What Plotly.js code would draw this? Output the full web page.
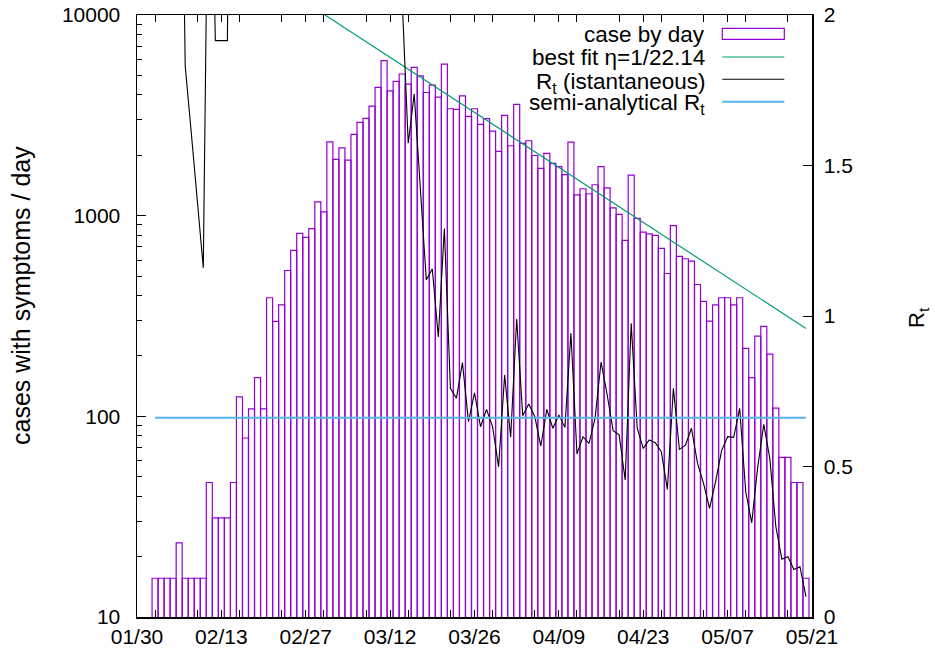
<!DOCTYPE html>
<html><head><meta charset="utf-8">
<script src="https://cdn.plot.ly/plotly-3.0.1.min.js"></script>
<style>html,body{margin:0;padding:0;background:#fff}#chart{width:935px;height:654px}</style>
</head><body><div id="chart"></div>
<script>
// ---- data ----
const caseStart = '2020-02-02';
const casesByDay = [
  15.6, 15.6, 15.6, 15.6, 23.4, 15.6, 15.6, 15.6, 15.6, 46.8,
  31.2, 31.2, 31.2, 46.8, 125, 78, 109, 156, 109, 390,
  297, 359, 533, 671, 817, 779, 861, 1172, 1045, 2333,
  1909, 2178, 1893, 2542, 2917, 3054, 3516, 4354, 5918, 4189,
  4665, 5082, 4528, 5483, 4977, 4110, 4475, 3897, 5690, 3410,
  3387, 3955, 3124, 3410, 2849, 3042, 2641, 2091, 3162, 2230,
  3590, 2291, 2362, 1995, 1720, 2042, 1823, 1754, 1600, 2327,
  1268, 1362, 1286, 1426, 1754, 1377, 1094, 1014, 753, 1592,
  970, 828, 812, 797, 687, 515, 891, 627, 610, 594,
  454, 374, 298, 359, 390, 390, 359, 390, 218, 156,
  251, 281, 204, 110, 62.4, 62.4, 46.8, 46.8, 15.6
];
const rtStart = '2020-02-04';
const rtValues = [
  4.2, 3.9, 3.3, 1.83, 1.61, 1.38, 1.16, 2.9, 1.915, 1.915,
  1.915, 4.4, 3.8, 3.5, 3.6, 3.2, 3.4, 3.0, 3.1, 2.9,
  3.0, 2.8, 2.9, 2.7, 2.8, 2.6, 2.7, 2.6, 2.5, 2.6,
  2.4, 2.5, 2.4, 2.3, 2.4, 2.3, 2.2, 2.3, 2.4, 2.05,
  1.574, 1.737, 1.43, 1.12, 1.156, 0.93, 1.291, 0.760, 0.727, 0.845,
  0.649, 0.745, 0.632, 0.690, 0.632, 0.499, 0.804, 0.597, 0.99, 0.669,
  0.708, 0.666, 0.568, 0.690, 0.627, 0.671, 0.630, 0.943, 0.542, 0.599,
  0.577, 0.660, 0.847, 0.74, 0.619, 0.605, 0.455, 0.976, 0.627, 0.560,
  0.588, 0.579, 0.549, 0.424, 0.760, 0.557, 0.571, 0.627, 0.511, 0.444,
  0.361, 0.450, 0.553, 0.599, 0.597, 0.693, 0.416, 0.313, 0.499, 0.640,
  0.527, 0.300, 0.192, 0.200, 0.158, 0.167, 0.068
];
const fitDates = ['2020-03-01', '2020-05-20'];
const fitValues = [10090, 274];
const semiDates = ['2020-02-02', '2020-05-20'];
const semiValues = [0.662, 0.662];
const leftTickVals = [10, 100, 1000, 10000];
const leftTickText = ['10', '100', '1000', '10000'];
const rightTickVals = [0, 0.5, 1, 1.5, 2];
const rightTickText = ['0', '0.5', '1', '1.5', '2'];
const legendLabels = ['case by day', 'best fit \u03b7=1/22.14', 'R<sub>t</sub> (istantaneous)', 'semi-analytical R<sub>t</sub>'];

// ---- helpers ----
function dayList(start, n) {
  const d0 = new Date(start + 'T00:00:00Z').getTime();
  const out = [];
  for (let i = 0; i < n; i++) {
    out.push(new Date(d0 + i * 86400000).toISOString().slice(0, 10));
  }
  return out;
}
const caseDates = dayList(caseStart, casesByDay.length);
const rtDates = dayList(rtStart, rtValues.length);

const VIOLET = '#9400D3', GREEN = '#009E73', BLUE = '#56B4E9';
const FONT = 'Liberation Sans, Arial, sans-serif';
const DAY = 86400000;

const traces = [
  {type: 'bar', x: caseDates, y: casesByDay, yaxis: 'y', showlegend: false,
   marker: {color: 'rgba(0,0,0,0)', line: {color: VIOLET, width: 1.2}}, hoverinfo: 'skip'},
  {type: 'scatter', mode: 'lines', x: fitDates, y: fitValues, yaxis: 'y', showlegend: false,
   line: {color: GREEN, width: 1.2}},
  {type: 'scatter', mode: 'lines', x: rtDates, y: rtValues, yaxis: 'y2', showlegend: false,
   line: {color: '#000', width: 1.1}},
  {type: 'scatter', mode: 'lines', x: semiDates, y: semiValues, yaxis: 'y2', showlegend: false,
   line: {color: BLUE, width: 2}}
];

// legend (gnuplot style: text right-aligned, sample on the right)
const legRowsPx = [34, 57, 79.5, 101.5];
const plotL = 137, plotT = 15, plotW = 675, plotH = 602;
const px2x = p => (p - plotL) / plotW;
const px2y = p => 1 - (p - plotT) / plotH;
const annotations = legendLabels.map((t, i) => ({
  xref: 'paper', yref: 'paper', x: px2x(707), y: px2y(legRowsPx[i] + (i >= 2 ? 3 : 0)),
  xanchor: 'right', yanchor: 'middle', showarrow: false, text: t,
  font: {family: FONT, size: 22.5, color: '#000'}
}));
annotations.push({xref: 'paper', yref: 'paper', x: px2x(21), y: px2y(296), xanchor: 'center', yanchor: 'middle',
  textangle: -90, showarrow: false, text: 'cases with symptoms / day', font: {family: FONT, size: 25, color: '#000'}});
annotations.push({xref: 'paper', yref: 'paper', x: px2x(918), y: px2y(318), xanchor: 'center', yanchor: 'middle',
  textangle: -90, showarrow: false, text: 'R<sub>t</sub>', font: {family: FONT, size: 22, color: '#000'}});

const x0 = px2x(722.3), x1 = px2x(784.3);
const shapes = [
  {type: 'rect', xref: 'paper', yref: 'paper', x0: x0, x1: x1, y0: px2y(39.3), y1: px2y(28.3),
   line: {color: VIOLET, width: 1.2}, fillcolor: 'rgba(0,0,0,0)'},
  {type: 'line', xref: 'paper', yref: 'paper', x0: x0, x1: x1, y0: px2y(57), y1: px2y(57), line: {color: GREEN, width: 1.2}},
  {type: 'line', xref: 'paper', yref: 'paper', x0: x0, x1: x1, y0: px2y(79.3), y1: px2y(79.3), line: {color: '#000', width: 1.1}},
  {type: 'line', xref: 'paper', yref: 'paper', x0: x0, x1: x1, y0: px2y(101.7), y1: px2y(101.7), line: {color: BLUE, width: 2}}
];

const layout = {
  width: 935, height: 654,
  margin: {l: 137, r: 123, t: 15, b: 37, pad: 0},
  paper_bgcolor: '#fff', plot_bgcolor: '#fff',
  font: {family: FONT, size: 21, color: '#000'},
  bargap: 0, showlegend: false,
  xaxis: {type: 'date', range: ['2020-01-30', '2020-05-21'], tick0: '2020-01-30', dtick: 14 * DAY,
    tickformat: '%m/%d', ticks: 'inside', ticklen: 7, tickwidth: 1, tickcolor: '#000',
    minor: {dtick: 7 * DAY, ticks: 'inside', ticklen: 3, tickcolor: '#000'},
    showline: true, linecolor: '#000', linewidth: 1.5, mirror: 'allticks', showgrid: false, zeroline: false,
    tickfont: {family: FONT, size: 21}},
  yaxis: {type: 'log', range: [1, 4], tickmode: 'array', tickvals: leftTickVals, ticktext: leftTickText,
    ticks: 'inside', ticklen: 9, tickcolor: '#000', ticklabelstandoff: 11,
    minor: {dtick: 'D1', ticks: 'inside', ticklen: 5, tickcolor: '#000', showgrid: false},
    showline: true, linecolor: '#000', linewidth: 1.5, mirror: false, showgrid: false, zeroline: false,
    tickfont: {family: FONT, size: 21}},
  yaxis2: {overlaying: 'y', side: 'right', range: [0, 2], tickmode: 'array', tickvals: rightTickVals, ticktext: rightTickText,
    ticks: 'inside', ticklen: 9, tickcolor: '#000', ticklabelstandoff: 6, showline: true, linecolor: '#000', linewidth: 1.5,
    showgrid: false, zeroline: false, tickfont: {family: FONT, size: 21}},
  annotations: annotations,
  shapes: shapes
};

Plotly.newPlot('chart', traces, layout, {staticPlot: true, displayModeBar: false});
</script>
</body></html>
